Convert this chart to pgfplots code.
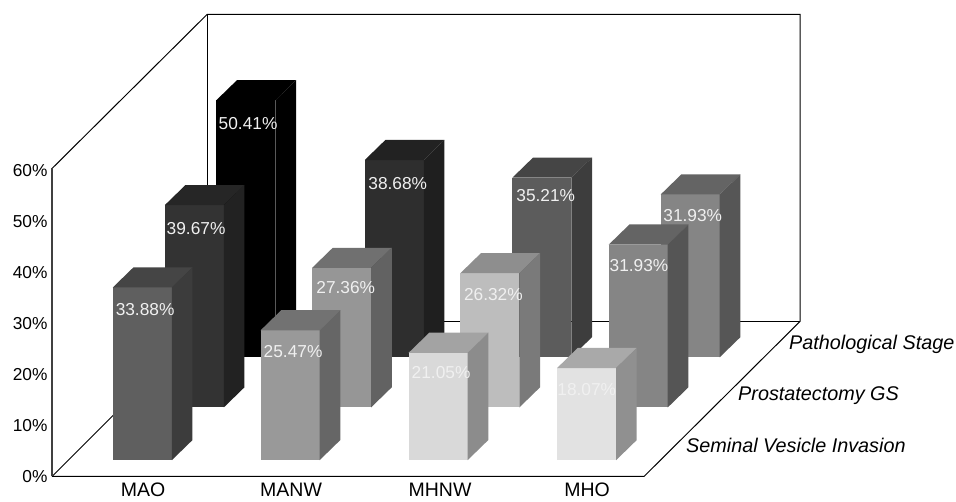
\documentclass[border=0pt]{standalone}
\usepackage{fontspec}
\setmainfont{Liberation Sans}
\usepackage{pgfplots}
\pgfplotsset{compat=1.18}
\newcommand{\defshade}[4]{%
  \definecolor{#1F}{HTML}{#2}\definecolor{#1T}{HTML}{#3}\definecolor{#1S}{HTML}{#4}}
\defshade{aa}{5F5F5F}{454545}{3C3C3C}
\defshade{ab}{999999}{727272}{666666}
\defshade{ac}{D9D9D9}{A3A3A3}{8C8C8C}
\defshade{ad}{E2E2E2}{A9A9A9}{909090}
\defshade{ba}{333333}{262626}{222222}
\defshade{bb}{969696}{707070}{626262}
\defshade{bc}{BDBDBD}{8E8E8E}{7A7A7A}
\defshade{bd}{858585}{646464}{555555}
\defshade{ca}{000000}{000000}{000000}
\defshade{cb}{2E2E2E}{222222}{1F1F1F}
\defshade{cc}{5C5C5C}{454545}{3D3D3D}
\defshade{cd}{858585}{646464}{565656}
\definecolor{lbl}{HTML}{F0F0F0}
% #1 left edge (px), #2 base level, #3 value (%), #4 shade, #5 #6 label centre (px)
\newcommand{\cuboid}[6]{%
  \pgfmathsetmacro{\xa}{#1}\pgfmathsetmacro{\xb}{#1+59}
  \pgfmathsetmacro{\xc}{#1+20.7}\pgfmathsetmacro{\xd}{#1+79.7}
  \pgfmathsetmacro{\yb}{#2}\pgfmathsetmacro{\yt}{#2+#3}
  \pgfmathsetmacro{\ybb}{#2+3.95}\pgfmathsetmacro{\ytt}{#2+#3+3.95}
  \pgfmathsetmacro{\ly}{(476.5-#6)/5.1}
  \edef\temp{%
    \noexpand\addplot[fill=#4F,draw=none] coordinates {(\xa,\yb)(\xb,\yb)(\xb,\yt)(\xa,\yt)};
    \noexpand\addplot[fill=#4T,draw=none] coordinates {(\xa,\yt)(\xb,\yt)(\xd,\ytt)(\xc,\ytt)};
    \noexpand\addplot[fill=#4S,draw=none] coordinates {(\xb,\yb)(\xd,\ybb)(\xd,\ytt)(\xb,\yt)};
    \noexpand\node[lbl,font=\noexpand\fontsize{17.3}{20}\noexpand\selectfont,inner sep=0pt] at (axis cs:#5,\ly) {#3\noexpand\%};
  }\temp}
\begin{document}
\begin{tikzpicture}
\begin{axis}[
  scale only axis, width=956pt, height=501pt,
  xmin=0, xmax=956, ymin=-4.804, ymax=93.431,
  axis line style={draw=none},
  major tick length=0pt,
  xtick pos=bottom, ytick pos=left,
  xtick={143,291,440,587}, xticklabels={MAO,MANW,MHNW,MHO},
  ytick={0,10,20,30,40,50,60},
  yticklabel={\pgfmathprintnumber{\tick}\%},
  /pgf/number format/assume math mode=true,
  xticklabel style={font=\fontsize{19.5}{22}\selectfont,anchor=base,inner sep=0pt,yshift=4pt,black},
  yticklabel style={font=\fontsize{17.3}{20}\selectfont,anchor=east,inner sep=0pt,xshift=47.5pt,black},
  no markers,
]
% frame
\addplot[black,line width=1pt] coordinates {(52,60.4)(207,90.6)(800,90.6)(800,30.4)(644,0)(52,0)};
\addplot[black,line width=1pt] coordinates {(207,90.6)(207,30.4)(800,30.4)};
\addplot[black,line width=1pt] coordinates {(52,0)(207,30.4)};
\addplot[black!75,line width=1.2pt] coordinates {(52,0)(52,60.4)};
% back row: Pathological Stage
\cuboid{216.3}{23.37}{50.41}{ca}{248}{124}
\cuboid{364.7}{23.37}{38.68}{cb}{397.7}{184}
\cuboid{512.3}{23.37}{35.21}{cc}{545.7}{196}
\cuboid{660.7}{23.37}{31.93}{cd}{692.7}{215.7}
% middle row: Prostatectomy GS
\cuboid{164.7}{13.53}{39.67}{ba}{196}{228.3}
\cuboid{312}{13.53}{27.36}{bb}{345.7}{287.7}
\cuboid{460.3}{13.53}{26.32}{bc}{493.3}{295}
\cuboid{608.7}{13.53}{31.93}{bd}{639}{266}
% front row: Seminal Vesicle Invasion
\cuboid{112.7}{3.18}{33.88}{aa}{145}{309.3}
\cuboid{260.5}{3.18}{25.47}{ab}{293}{351.7}
\cuboid{408.5}{3.18}{21.05}{ac}{441}{372.3}
\cuboid{557}{3.18}{18.07}{ad}{586.7}{390}
% series names
\node[anchor=base west,inner sep=0pt,font=\fontsize{19.8}{22}\selectfont\itshape] at (axis cs:789,24.94) {Pathological Stage};
\node[anchor=base west,inner sep=0pt,font=\fontsize{19.8}{22}\selectfont\itshape] at (axis cs:738,14.86) {Prostatectomy GS};
\node[anchor=base west,inner sep=0pt,font=\fontsize{19.8}{22}\selectfont\itshape] at (axis cs:686,4.67) {Seminal Vesicle Invasion};
\end{axis}
\end{tikzpicture}
\end{document}
